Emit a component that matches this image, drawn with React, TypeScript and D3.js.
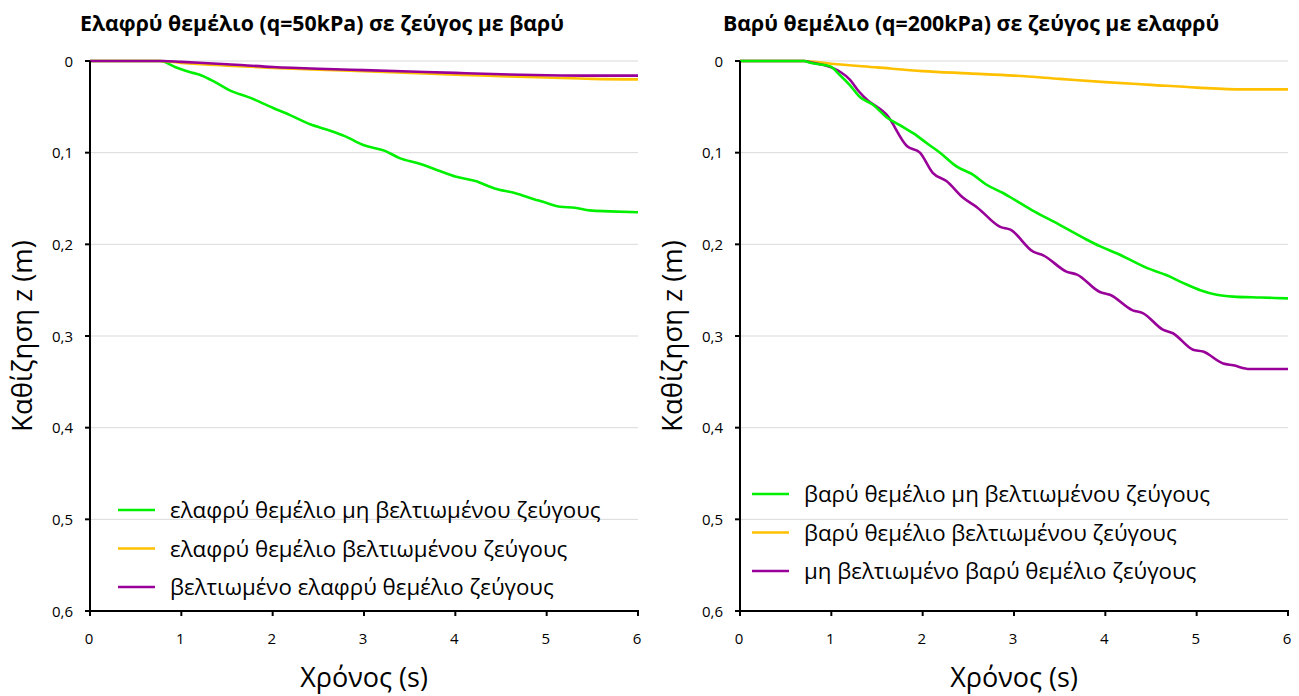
import React from "react";
import * as d3 from "d3";

// Time (s) / settlement (m) samples for each foundation curve
const leftGreenT = [0, 0.77, 0.93, 1.09, 1.2, 1.37, 1.53, 1.75, 2.0, 2.19, 2.41, 2.63, 2.79, 3.0, 3.23, 3.39, 3.61, 3.83, 4.0, 4.22, 4.43, 4.65, 4.87, 5.0, 5.15, 5.31, 5.47, 5.69, 6.0];
const leftGreenZ = [0, 0, 0.0065, 0.012, 0.015, 0.023, 0.032, 0.04, 0.051, 0.059, 0.069, 0.076, 0.082, 0.092, 0.098, 0.106, 0.112, 0.12, 0.126, 0.131, 0.139, 0.144, 0.151, 0.155, 0.159, 0.16, 0.163, 0.164, 0.165];

const leftOrangeT = [0, 0.75, 1.0, 1.5, 2.0, 2.5, 3.0, 3.5, 4.0, 4.5, 5.0, 5.5, 6.0];
const leftOrangeZ = [0, 0, 0.002, 0.005, 0.0075, 0.0095, 0.011, 0.013, 0.015, 0.0165, 0.018, 0.0195, 0.02];

const leftPurpleT = [0, 0.8, 1.0, 1.5, 2.0, 2.5, 3.0, 3.5, 4.0, 4.5, 5.0, 5.5, 6.0];
const leftPurpleZ = [0, 0, 0.001, 0.0035, 0.0065, 0.0085, 0.01, 0.0115, 0.013, 0.0145, 0.0155, 0.016, 0.016];

const rightGreenT = [0, 0.7, 0.77, 0.99, 1.09, 1.2, 1.31, 1.46, 1.6, 1.75, 1.9, 2.05, 2.19, 2.37, 2.55, 2.7, 2.88, 3.0, 3.2, 3.43, 3.76, 3.94, 4.13, 4.46, 4.68, 4.85, 5.04, 5.22, 5.4, 5.7, 6.0];
const rightGreenZ = [0, 0, 0.002, 0.006, 0.015, 0.026, 0.039, 0.048, 0.061, 0.07, 0.079, 0.09, 0.1, 0.115, 0.124, 0.135, 0.144, 0.151, 0.163, 0.175, 0.193, 0.202, 0.21, 0.226, 0.234, 0.242, 0.25, 0.255, 0.257, 0.258, 0.259];

const rightOrangeT = [0, 0.7, 1.0, 1.5, 2.0, 2.5, 3.0, 3.5, 4.0, 4.5, 5.0, 5.5, 6.0];
const rightOrangeZ = [0, 0, 0.003, 0.007, 0.011, 0.0135, 0.016, 0.0195, 0.023, 0.026, 0.029, 0.031, 0.031];

const rightPurpleT = [0, 0.7, 0.8, 1.0, 1.1, 1.2, 1.3, 1.4, 1.5, 1.6, 1.83, 1.97, 2.11, 2.26, 2.44, 2.6, 2.85, 2.96, 3.21, 3.32, 3.58, 3.69, 3.94, 4.05, 4.3, 4.41, 4.63, 4.74, 4.96, 5.07, 5.29, 5.4, 5.58, 6.0];
const rightPurpleZ = [0, 0, 0.002, 0.007, 0.012, 0.02, 0.033, 0.043, 0.05, 0.058, 0.093, 0.1, 0.122, 0.131, 0.149, 0.16, 0.181, 0.184, 0.208, 0.212, 0.23, 0.233, 0.252, 0.255, 0.272, 0.275, 0.293, 0.297, 0.315, 0.317, 0.33, 0.332, 0.336, 0.336];

const xTicks = [0, 1, 2, 3, 4, 5, 6];
const yTicks = [0, 0.1, 0.2, 0.3, 0.4, 0.5, 0.6];

const leftTitle = "Ελαφρύ θεμέλιο (q=50kPa) σε ζεύγος με βαρύ";
const rightTitle = "Βαρύ θεμέλιο (q=200kPa) σε ζεύγος με ελαφρύ";
const leftNames = [
  "ελαφρύ θεμέλιο μη βελτιωμένου ζεύγους",
  "ελαφρύ θεμέλιο βελτιωμένου ζεύγους",
  "βελτιωμένο ελαφρύ θεμέλιο ζεύγους",
];
const rightNames = [
  "βαρύ θεμέλιο μη βελτιωμένου ζεύγους",
  "βαρύ θεμέλιο βελτιωμένου ζεύγους",
  "μη βελτιωμένο βαρύ θεμέλιο ζεύγους",
];
const yLabel = "Καθίζηση z (m)";
const xLabel = "Χρόνος (s)";

const GREEN = "#00F000";
const ORANGE = "#FFC000";
const PURPLE = "#990099";
const FONT = "'Open Sans', 'Noto Sans', sans-serif";

type Series = { name: string; color: string; t: number[]; z: number[] };

const leftSeries: Series[] = [
  { name: leftNames[0], color: GREEN, t: leftGreenT, z: leftGreenZ },
  { name: leftNames[1], color: ORANGE, t: leftOrangeT, z: leftOrangeZ },
  { name: leftNames[2], color: PURPLE, t: leftPurpleT, z: leftPurpleZ },
];
const rightSeries: Series[] = [
  { name: rightNames[1], color: ORANGE, t: rightOrangeT, z: rightOrangeZ },
  { name: rightNames[2], color: PURPLE, t: rightPurpleT, z: rightPurpleZ },
  { name: rightNames[0], color: GREEN, t: rightGreenT, z: rightGreenZ },
];
const rightLegend = [
  { name: rightNames[0], color: GREEN },
  { name: rightNames[1], color: ORANGE },
  { name: rightNames[2], color: PURPLE },
];

type PanelProps = {
  x0: number;
  titleX: number;
  title: string;
  series: Series[];
  legend: { name: string; color: string }[];
  legendY: number;
  legendX: number;
};

function Panel({ x0, titleX, title, series, legend, legendY, legendX }: PanelProps) {
  const plotLeft = x0;
  const plotRight = x0 + 548;
  const top = 61;
  const bottom = 611;
  const x = d3.scaleLinear().domain([0, 6]).range([plotLeft, plotRight]);
  const y = d3.scaleLinear().domain([0, 0.6]).range([top, bottom]);
  const line = d3
    .line<[number, number]>()
    .x((d) => x(d[0]))
    .y((d) => y(d[1]))
    .curve(d3.curveMonotoneX);
  const fmt = (v: number) => (v === 0 ? "0" : d3.format(".1f")(v).replace(".", ","));

  return (
    <g>
      <text x={titleX} y={31} fontFamily={FONT} fontWeight={700} fontSize={21.3} fill="#000">
        {title}
      </text>
      {yTicks.slice(0, -1).map((v) => (
        <line key={"g" + v} x1={plotLeft} x2={plotRight} y1={y(v)} y2={y(v)} stroke="#d9d9d9" strokeWidth={1} />
      ))}
      {series.map((s) => (
        <path
          key={s.name}
          d={line(s.t.map((t, i) => [t, s.z[i]] as [number, number])) || ""}
          fill="none"
          stroke={s.color}
          strokeWidth={2.6}
          strokeLinejoin="round"
        />
      ))}
      <line x1={plotLeft} x2={plotLeft} y1={top} y2={bottom} stroke="#000" strokeWidth={2} />
      <line x1={plotLeft} x2={plotRight + 1} y1={bottom} y2={bottom} stroke="#000" strokeWidth={2} />
      {yTicks.map((v) => (
        <g key={"y" + v}>
          <line x1={plotLeft - 5} x2={plotLeft} y1={y(v)} y2={y(v)} stroke="#000" strokeWidth={2} />
          <text x={plotLeft - 17} y={y(v) + 5.5} textAnchor="end" fontFamily={FONT} fontSize={15} fill="#000">
            {fmt(v)}
          </text>
        </g>
      ))}
      {xTicks.map((v) => (
        <g key={"x" + v}>
          <line x1={x(v)} x2={x(v)} y1={bottom} y2={bottom + 5} stroke="#000" strokeWidth={2} />
          <text x={x(v) - 1} y={bottom + 33} textAnchor="middle" fontFamily={FONT} fontSize={15} fill="#000">
            {v}
          </text>
        </g>
      ))}
      <text
        transform={`translate(${x0 - 58},${(top + bottom) / 2}) rotate(-90)`}
        textAnchor="middle"
        fontFamily={FONT}
        fontSize={27.5}
        fill="#000"
      >
        {yLabel}
      </text>
      <text x={(plotLeft + plotRight) / 2} y={687} textAnchor="middle" fontFamily={FONT} fontSize={27} fill="#000">
        {xLabel}
      </text>
      {legend.map((l, i) => (
        <g key={l.name} transform={`translate(${legendX},${legendY + i * 38.5})`}>
          <line x1={0} x2={37} y1={0} y2={0} stroke={l.color} strokeWidth={2.6} />
          <text x={52} y={8} fontFamily={FONT} fontSize={22.3} fill="#000">
            {l.name}
          </text>
        </g>
      ))}
    </g>
  );
}

export default function App() {
  return (
    <svg
      width={1299}
      height={696}
      viewBox="0 0 1299 696"
      style={{ position: "absolute", left: 0, top: 0, display: "block", background: "#fff" }}
    >
      <rect width={1299} height={696} fill="#fff" />
      <Panel x0={90} titleX={80} title={leftTitle} series={leftSeries} legend={leftSeries} legendX={118} legendY={510} />
      <Panel x0={740} titleX={723} title={rightTitle} series={rightSeries} legend={rightLegend} legendX={752} legendY={494} />
    </svg>
  );
}
